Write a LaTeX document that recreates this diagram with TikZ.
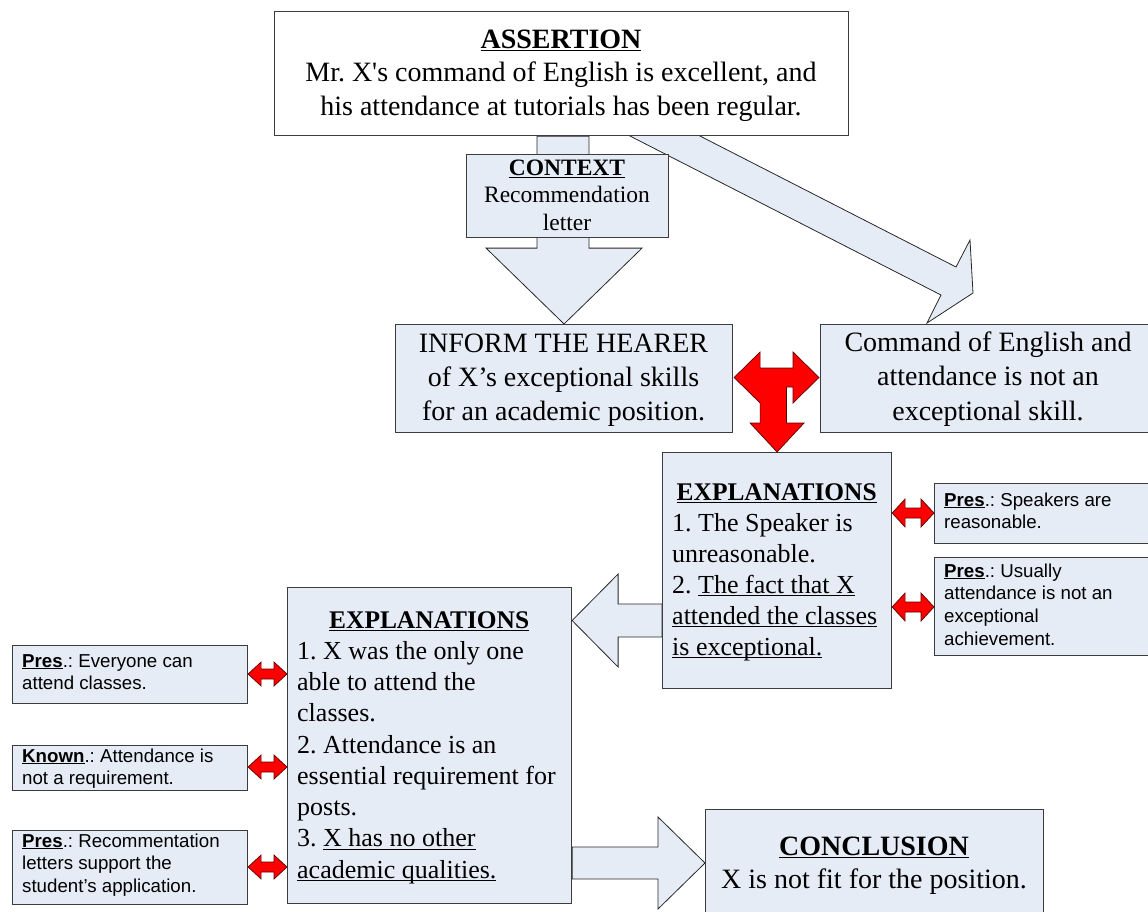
\documentclass[tikz,border=0pt]{standalone}
\usepackage{fontspec}
\setmainfont{Liberation Serif}[Ligatures=TeXOff]
\setsansfont{Liberation Sans}[Ligatures=TeXOff]
\newcommand\myul[1]{\leavevmode\setbox0\hbox{#1}\rlap{\rule[-0.12em]{\wd0}{0.05em}}\box0}
\usetikzlibrary{calc}
\pgfdeclarelayer{bg}
\pgfsetlayers{bg,main}
\definecolor{boxfill}{RGB}{230,236,246}
\definecolor{boxline}{RGB}{60,60,60}
\definecolor{arrline}{RGB}{40,40,40}
\definecolor{redfill}{RGB}{255,0,0}
\definecolor{redline}{RGB}{90,0,0}
\tikzset{
  box/.style={draw=boxline, line width=1.1pt, fill=boxfill, inner sep=0pt, anchor=north west},
  whitebox/.style={box, fill=white},
  hollow/.style={draw=arrline, line width=0.8pt, fill=boxfill, line join=miter},
  redarr/.style={draw=redline, line width=0.7pt, fill=redfill, line join=miter},
  bigtxt/.style={inner sep=0pt, anchor=base, align=flush center, text width=336pt, font=\frenchspacing\fontsize{28}{33.5}\selectfont},
  leftxt/.style={inner sep=0pt, anchor=base west, align=flush left, font=\frenchspacing\fontsize{26}{31}\selectfont},
  smalltxt/.style={inner sep=0pt, anchor=base west, align=flush left, text width=230pt, font=\frenchspacing\sffamily\fontsize{18.7}{22.7}\selectfont},
}
\newcommand\smallred[4]{%
  \draw[redarr] let \p1=(#1.east), \p2=(#2.west), \p3=(0,#3) in
    (\x1,\y3) -- (\x1+13pt,\y3+#4pt) -- (\x1+13pt,\y3+5pt) -- (\x2-13pt,\y3+5pt)
    -- (\x2-13pt,\y3+#4pt) -- (\x2,\y3) -- (\x2-13pt,\y3-#4pt) -- (\x2-13pt,\y3-5pt)
    -- (\x1+13pt,\y3-5pt) -- (\x1+13pt,\y3-#4pt) -- cycle;}
\begin{document}
\begin{tikzpicture}[x=1pt,y=-1pt]
\useasboundingbox (0,0) rectangle (1148,911);

% ---------- boxes ----------
\node[whitebox, minimum width=574pt, minimum height=124pt] (assert) at (274,11) {};
\node[box, minimum width=202pt, minimum height=83pt] (context) at (466,154) {};
\node[box, minimum width=337pt, minimum height=108pt] (inform) at (395,324) {};
\node[box, minimum width=336pt, minimum height=108pt] (command) at (820,324) {};
\node[box, minimum width=229pt, minimum height=236pt] (ex1) at (662,452) {};
\node[box, minimum width=240pt, minimum height=60pt] (pres1) at (934,483) {};
\node[box, minimum width=240pt, minimum height=98pt] (pres2) at (934,557) {};
\node[box, minimum width=284pt, minimum height=316pt] (ex2) at (287,587) {};
\node[box, minimum width=235pt, minimum height=58pt] (lp1) at (12,645) {};
\node[box, minimum width=235pt, minimum height=45pt] (lp2) at (12,745) {};
\node[box, minimum width=235pt, minimum height=74pt] (lp3) at (12,830) {};
\node[box, minimum width=338pt, minimum height=130pt] (concl) at (705,809) {};

% ---------- texts ----------
\node[bigtxt, text width=560pt] (assertT) at (561,48) {\textbf{\myul{ASSERTION}}\\Mr. X's command of English is excellent, and\\his attendance at tutorials has been regular.};
\node[bigtxt, text width=200pt, font=\fontsize{23.5}{27.5}\selectfont] (contextT) at (567,175) {\textbf{\myul{CONTEXT}}\\Recommendation\\letter};
\node[bigtxt, font=\fontsize{28}{34}\selectfont] (informT) at (563.5,352) {INFORM THE HEARER\\of X’s exceptional skills\\for an academic position.};
\node[bigtxt, font=\fontsize{28}{34.5}\selectfont] (commandT) at (988,351) {Command of English and\\attendance is not an\\exceptional skill.};
\node[leftxt, text width=209pt] (ex1T) at (672,500)
  {\makebox[209pt]{\fontsize{25.4}{31}\selectfont\textbf{\myul{EXPLANATIONS}}}\\1. The Speaker is\\unreasonable.\\2. \myul{The fact that X}\\\myul{attended the classes}\\\myul{is exceptional.}};
\node[leftxt, text width=264pt, font=\frenchspacing\fontsize{26}{31.25}\selectfont] (ex2T) at (297,628)
  {\makebox[264pt]{\fontsize{25.4}{31}\selectfont\textbf{\myul{EXPLANATIONS}}}\\1. X was the only one\\able to attend the\\classes.\\2. Attendance is an\\essential requirement for\\posts.\\3. \myul{X has no other}\\\myul{academic qualities.}};
\node[bigtxt] (conclT) at (874,855) {\textbf{\myul{CONCLUSION}}\\X is not fit for the position.};

\node[smalltxt] (pres1T) at (944,506) {\textbf{\myul{Pres}}.: Speakers are\\reasonable.};
\node[smalltxt] (pres2T) at (944,577) {\textbf{\myul{Pres}}.: Usually\\attendance is not an\\exceptional\\achievement.};
\node[smalltxt] (lp1T) at (22,667) {\textbf{\myul{Pres}}.: Everyone can\\attend classes.};
\node[smalltxt] (lp2T) at (22,762) {\textbf{\myul{Known}}.: Attendance is\\not a requirement.};
\node[smalltxt] (lp3T) at (22,847) {\textbf{\myul{Pres}}.: Recommentation\\letters support the\\student’s application.};

% ---------- hollow block arrows (behind boxes) ----------
\begin{pgfonlayer}{bg}
  % assertion -> (context) -> inform
  \draw[hollow] let \p1=(assert.south), \p2=(inform.north), \p3=(context.south) in
    (\x2-27pt,\y1) -- (\x2-27pt,\y3-10pt) -- (\x2-78pt,\y3-10pt) -- (\x2,\y2)
    -- (\x2+78pt,\y3-10pt) -- (\x2+25pt,\y3-10pt) -- (\x2+25pt,\y1) -- cycle;
  % assertion -> command (diagonal)
  \draw[hollow] (628,135) -- (698,135) -- (956,267) -- (970,240) -- (973,293)
    -- (927,323) -- (941,295) -- cycle;
  % ex1 -> ex2
  \draw[hollow] let \p1=(ex2.east), \p2=(ex1.west), \p3=(0,620.5) in
    (\x2,\y3+16.5pt) -- (\x1+46pt,\y3+16.5pt) -- (\x1+46pt,\y3+46.5pt) -- (\x1,\y3)
    -- (\x1+46pt,\y3-46.5pt) -- (\x1+46pt,\y3-16.5pt) -- (\x2,\y3-16.5pt) -- cycle;
  % ex2 -> conclusion
  \draw[hollow] let \p1=(ex2.east), \p2=(concl.west), \p3=(0,863) in
    (\x1,\y3+16pt) -- (\x2-47pt,\y3+16pt) -- (\x2-47pt,\y3+46pt) -- (\x2,\y3)
    -- (\x2-47pt,\y3-46pt) -- (\x2-47pt,\y3-16pt) -- (\x1,\y3-16pt) -- cycle;
\end{pgfonlayer}

% ---------- red arrows ----------
\draw[redarr] let \p1=(inform.east), \p2=(command.west), \p3=(ex1.north), \p4=(0,377.5) in
  (\x1+1pt,\y4) -- (\x1+27pt,\y4+25.5pt) -- (\x1+27pt,\y4+9.5pt) -- (\x2-27pt,\y4+9.5pt)
  -- (\x2-27pt,\y4+25.5pt) -- (\x2-1pt,\y4) -- (\x2-27pt,\y4-25.5pt) -- (\x2-27pt,\y4-9.5pt)
  -- (\x3+9.5pt,\y4-9.5pt) -- (\x3+9.5pt,\y3+29pt) -- (\x3+27pt,\y3+29pt) -- (\x3,\y3)
  -- (\x3-27pt,\y3+29pt) -- (\x1+27pt,\y3+29pt) -- (\x1+27pt,\y4-25.5pt) -- cycle;
\smallred{ex1}{pres1}{513}{14}
\smallred{ex1}{pres2}{607}{14}
\smallred{lp1}{ex2}{674}{12}
\smallred{lp2}{ex2}{767}{12}
\smallred{lp3}{ex2}{867}{12}
\end{tikzpicture}
\end{document}
